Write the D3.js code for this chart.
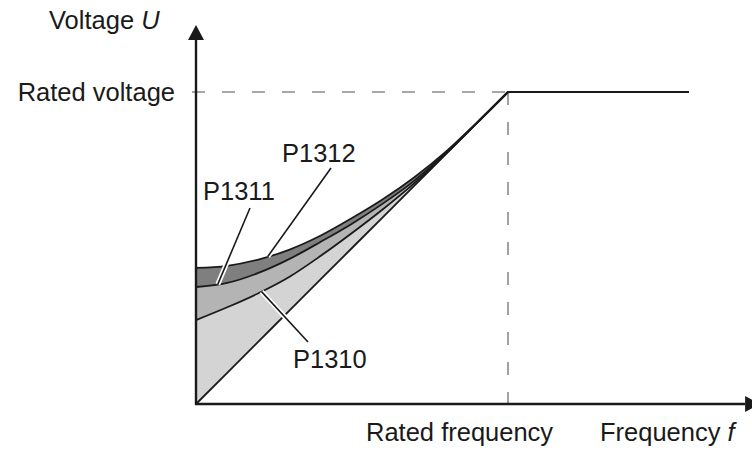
<!DOCTYPE html>
<html>
<head>
<meta charset="utf-8">
<script src="https://cdn.jsdelivr.net/npm/d3@7"></script>
<style>
  html, body { margin: 0; padding: 0; background: #fff; }
  svg text { font-family: "Liberation Sans", Arial, sans-serif; fill: #1a1a1a; }
</style>
</head>
<body>
<svg id="chart" width="752" height="450"></svg>
<script>
// Normalised frequency (1 = rated frequency)
const freq = [0, 0.1, 0.2, 0.3, 0.4, 0.5, 0.6, 0.7, 0.8, 0.9, 1.0];
// Linear V/f characteristic (normalised voltage)
const linear = [0, 0.1, 0.2, 0.3, 0.4, 0.5, 0.6, 0.7, 0.8, 0.9, 1.0];
// Boost characteristics
const p1310 = [0.269, 0.310, 0.355, 0.408, 0.475, 0.548, 0.625, 0.708, 0.801, 0.900, 1.0];
const p1311 = [0.375, 0.388, 0.420, 0.465, 0.520, 0.578, 0.643, 0.716, 0.804, 0.900, 1.0];
const p1312 = [0.436, 0.443, 0.463, 0.495, 0.540, 0.596, 0.657, 0.727, 0.808, 0.902, 1.0];
// Field weakening range: constant voltage above rated frequency
const flatFreq = [1.0, 1.58];
const flatVolt = [1.0, 1.0];
// Axis marks
const yTickLabels = ["Rated voltage"];
const xTickLabels = ["Rated frequency"];
const seriesNames = ["P1310", "P1311", "P1312"];

const svg = d3.select("#chart");
const x = d3.scaleLinear().domain([0, 1]).range([196, 508]);
const y = d3.scaleLinear().domain([0, 1]).range([404, 92]);
const xMax = 1.76, yMax = 1.167;

const dark = "#1a1a1a";
const pts = arr => freq.map((f, i) => [f, arr[i]]);

// Shaded bands between neighbouring characteristics
function band(lower, upper, fill) {
  const area = d3.area()
    .x((d, i) => x(freq[i]))
    .y0((d, i) => y(lower[i]))
    .y1((d, i) => y(upper[i]))
    .curve(d3.curveMonotoneX);
  svg.append("path").attr("d", area(freq)).attr("fill", fill).attr("stroke", "none");
}
band(p1311, p1312, "#7f7f7f");
band(p1310, p1311, "#b4b4b4");
band(linear, p1310, "#d4d4d4");

// Reference dashed lines at rated voltage / rated frequency
svg.append("line")
  .attr("x1", x(-0.013)).attr("x2", x(1)).attr("y1", y(1)).attr("y2", y(1))
  .attr("stroke", "#8a8a8a").attr("stroke-width", 1.6).attr("stroke-dasharray", "13,17");
svg.append("line")
  .attr("x1", x(1)).attr("x2", x(1)).attr("y1", y(1)).attr("y2", y(-0.013))
  .attr("stroke", "#8a8a8a").attr("stroke-width", 1.6).attr("stroke-dasharray", "13,17");

// Characteristic lines
const line = d3.line().x(d => x(d[0])).y(d => y(d[1])).curve(d3.curveMonotoneX);
[linear, p1310, p1311, p1312].forEach(arr => {
  svg.append("path").attr("d", line(pts(arr)))
    .attr("fill", "none").attr("stroke", dark).attr("stroke-width", 1.8);
});
svg.append("path").attr("d", d3.line()(flatFreq.map((f, i) => [x(f), y(flatVolt[i])])))
  .attr("fill", "none").attr("stroke", dark).attr("stroke-width", 2);

// Axes with arrow heads
svg.append("line").attr("x1", x(0)).attr("x2", x(0)).attr("y1", y(0) + 1).attr("y2", y(yMax))
  .attr("stroke", dark).attr("stroke-width", 2.4);
svg.append("line").attr("x1", x(0) - 1).attr("x2", x(xMax)).attr("y1", y(0)).attr("y2", y(0))
  .attr("stroke", dark).attr("stroke-width", 2.4);
svg.append("path")
  .attr("d", `M${x(0)},${y(yMax) - 15} L${x(0) - 8},${y(yMax)} L${x(0) + 8},${y(yMax)} Z`)
  .attr("fill", dark);
svg.append("path")
  .attr("d", `M${x(xMax) + 15},${y(0)} L${x(xMax)},${y(0) - 8} L${x(xMax)},${y(0) + 8} Z`)
  .attr("fill", dark);

// Axis titles and marks
const fs = 25.5;
const yTitle = svg.append("text").attr("x", 49).attr("y", 29).attr("font-size", fs);
yTitle.append("tspan").text("Voltage ");
yTitle.append("tspan").attr("font-style", "italic").text("U");
svg.append("text").attr("x", x(0) - 21).attr("y", y(1) + 9).attr("text-anchor", "end")
  .attr("font-size", fs).text(yTickLabels[0]);
svg.append("text").attr("x", 366).attr("y", 441).attr("font-size", fs).text(xTickLabels[0]);
const xTitle = svg.append("text").attr("x", 600).attr("y", 441).attr("font-size", fs);
xTitle.append("tspan").text("Frequency ");
xTitle.append("tspan").attr("font-style", "italic").text("f");

// Leader lines from each curve to its label
function valueAt(arr, f) {
  const i = Math.min(freq.length - 2, Math.floor(f / 0.1));
  const t = (f - freq[i]) / (freq[i + 1] - freq[i]);
  return arr[i] + t * (arr[i + 1] - arr[i]);
}
const leaders = [
  { arr: p1310, f: 0.21, tx: 308, ty: 342, lx: 293, ly: 368, name: seriesNames[0] },
  { arr: p1311, f: 0.07, tx: 250, ty: 208, lx: 203, ly: 200, name: seriesNames[1] },
  { arr: p1312, f: 0.23, tx: 331, ty: 168, lx: 282, ly: 162, name: seriesNames[2] }
];
leaders.forEach(d => {
  const px = x(d.f), py = y(valueAt(d.arr, d.f));
  svg.append("line").attr("x1", px).attr("y1", py).attr("x2", d.tx).attr("y2", d.ty)
    .attr("stroke", "#fff").attr("stroke-width", 5);
  svg.append("line").attr("x1", px).attr("y1", py).attr("x2", d.tx).attr("y2", d.ty)
    .attr("stroke", dark).attr("stroke-width", 1.6);
  svg.append("text").attr("x", d.lx).attr("y", d.ly).attr("font-size", fs).text(d.name);
});
</script>
</body>
</html>
